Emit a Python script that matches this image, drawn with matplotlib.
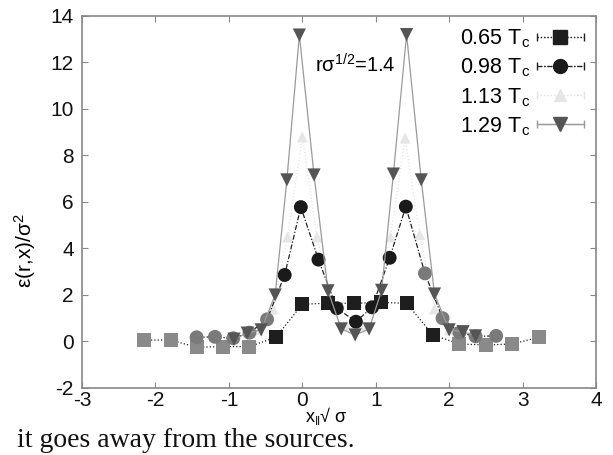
import numpy as np
import matplotlib
matplotlib.use("Agg")
import matplotlib.pyplot as plt
from matplotlib.container import ErrorbarContainer
from matplotlib.legend_handler import HandlerErrorbar

plt.rcParams['font.family'] = ['Liberation Sans', 'DejaVu Sans']
plt.rcParams['mathtext.default'] = 'regular'
plt.rcParams['axes.unicode_minus'] = False

# 0.65 Tc (squares)
x_065 = [-2.15, -1.79, -1.44, -1.08, -0.72, -0.36, 0.0, 0.35, 0.70, 1.07, 1.42, 1.78, 2.14, 2.50, 2.86, 3.22]
y_065 = [0.06, 0.06, -0.25, -0.22, -0.22, 0.18, 1.60, 1.65, 1.64, 1.68, 1.64, 0.28, -0.11, -0.15, -0.11, 0.18]

# 0.98 Tc (circles)
x_098 = [-1.44, -1.19, -0.94, -0.72, -0.48, -0.24, -0.02, 0.22, 0.47, 0.73, 0.95, 1.19, 1.41, 1.67, 1.91, 2.14, 2.36, 2.64]
y_098 = [0.18, 0.20, 0.14, 0.38, 0.95, 2.86, 5.78, 3.52, 1.43, 0.85, 1.47, 3.60, 5.80, 2.93, 1.00, 0.38, 0.22, 0.24]

# 1.13 Tc (light triangles up)
x_113 = [-0.60, -0.40, -0.20, 0.0, 0.20, 0.40, 0.60, 0.80, 1.00, 1.20, 1.40, 1.60, 1.80, 2.00]
y_113 = [0.50, 1.40, 4.50, 8.80, 4.50, 1.65, 0.70, 0.70, 1.60, 4.50, 8.75, 4.60, 1.40, 0.50]

# 1.29 Tc (triangles down)
x_129 = [-0.93, -0.75, -0.56, -0.37, -0.21, -0.04, 0.16, 0.35, 0.53, 0.72, 0.91, 1.08, 1.24, 1.42, 1.62, 1.80, 2.00, 2.19, 2.36]
y_129 = [0.10, 0.36, 0.50, 2.00, 6.95, 13.18, 7.16, 2.18, 0.54, 0.28, 0.54, 2.20, 7.20, 13.20, 6.95, 2.04, 0.50, 0.42, 0.24]

labels = ['0.65 T$_c$', '0.98 T$_c$', '1.13 T$_c$', '1.29 T$_c$']
x_ticks = np.arange(-3, 5, 1)
y_ticks = np.arange(-2, 16, 2)

fig = plt.figure(figsize=(6.13, 4.55), dpi=100)
ax = fig.add_axes([0.1338, 0.1473, 0.8385, 0.8176])

series = [
    # x, y, marker, size, line style, line colour, inner colour, outer colour, half width, z
    (x_065, y_065, 's', 10, ':', '#222222', '#1e1e1e', '#8a8a8a', 1.1, 4),
    (x_098, y_098, 'o', 10, (0, (4, 1.5, 1, 1.5)), '#222222', '#1a1a1a', '#7a7a7a', 0.95, 5),
    (x_113, y_113, '^', 8, ':', '#e4e4e4', '#e6e6e6', '#e6e6e6', 9, 3),
    (x_129, y_129, 'v', 9.5, '-', '#9a9a9a', '#555555', '#666666', 9, 6),
]

handles = []
for (xs, ys, m, ms, ls, lc, cin, cout, hw, z), lab in zip(series, labels):
    xs = np.array(xs)
    ys = np.array(ys)
    ax.plot(xs, ys, ls=ls, color=lc, lw=0.9, zorder=z)
    cols = np.where(np.abs(xs - 0.7) <= hw, cin, cout)
    ax.scatter(xs, ys, marker=m, s=ms ** 2, c=list(cols), edgecolors='none', zorder=z + 0.5)
    h = ax.errorbar([np.nan], [np.nan], xerr=[0], fmt=m, ls=ls, color=lc, lw=0.9,
                    mfc=cin, mec=cin, ms=ms, capsize=3, elinewidth=0.9, label=lab)
    h[2][0].set_linestyle(ls if isinstance(ls, str) else ':')
    handles.append(h)

leg = ax.legend(handles=handles, loc='upper right', markerfirst=False, frameon=False,
                fontsize=15.5, handlelength=2.2, handletextpad=0.3, labelspacing=0.3,
                borderaxespad=0.25, borderpad=0.3,
                handler_map={ErrorbarContainer: HandlerErrorbar(xerr_size=1.1)})

ax.text(0.17, 11.9, r'r$\sigma^{1/2}$=1.4', fontsize=14.5, va='center', ha='left')

ax.set_xlim(-3, 4)
ax.set_ylim(-2, 14)
ax.set_xticks(x_ticks)
ax.set_yticks(y_ticks)
ax.tick_params(direction='in', length=4, width=0.8, colors='#888888', labelcolor='#111111',
               labelsize=15, top=True, right=True, pad=2)
ax.tick_params(axis='y', pad=6)
for s in ax.spines.values():
    s.set_color('#888888')
    s.set_linewidth(1.2)

ax.set_xlabel(r'x$_{\Vert}$√ σ', fontsize=13)
ax.xaxis.set_label_coords(0.475, -0.045)
ax.set_ylabel(r'ε(r,x)/σ$^2$', fontsize=15)
ax.yaxis.set_label_coords(-0.085, 0.37)

fig.text(0.028, 0.032, 'it goes away from the sources.', family='Liberation Serif',
         fontsize=20, va='center', ha='left', color='#111111')

fig.savefig('out.png', dpi=100)
